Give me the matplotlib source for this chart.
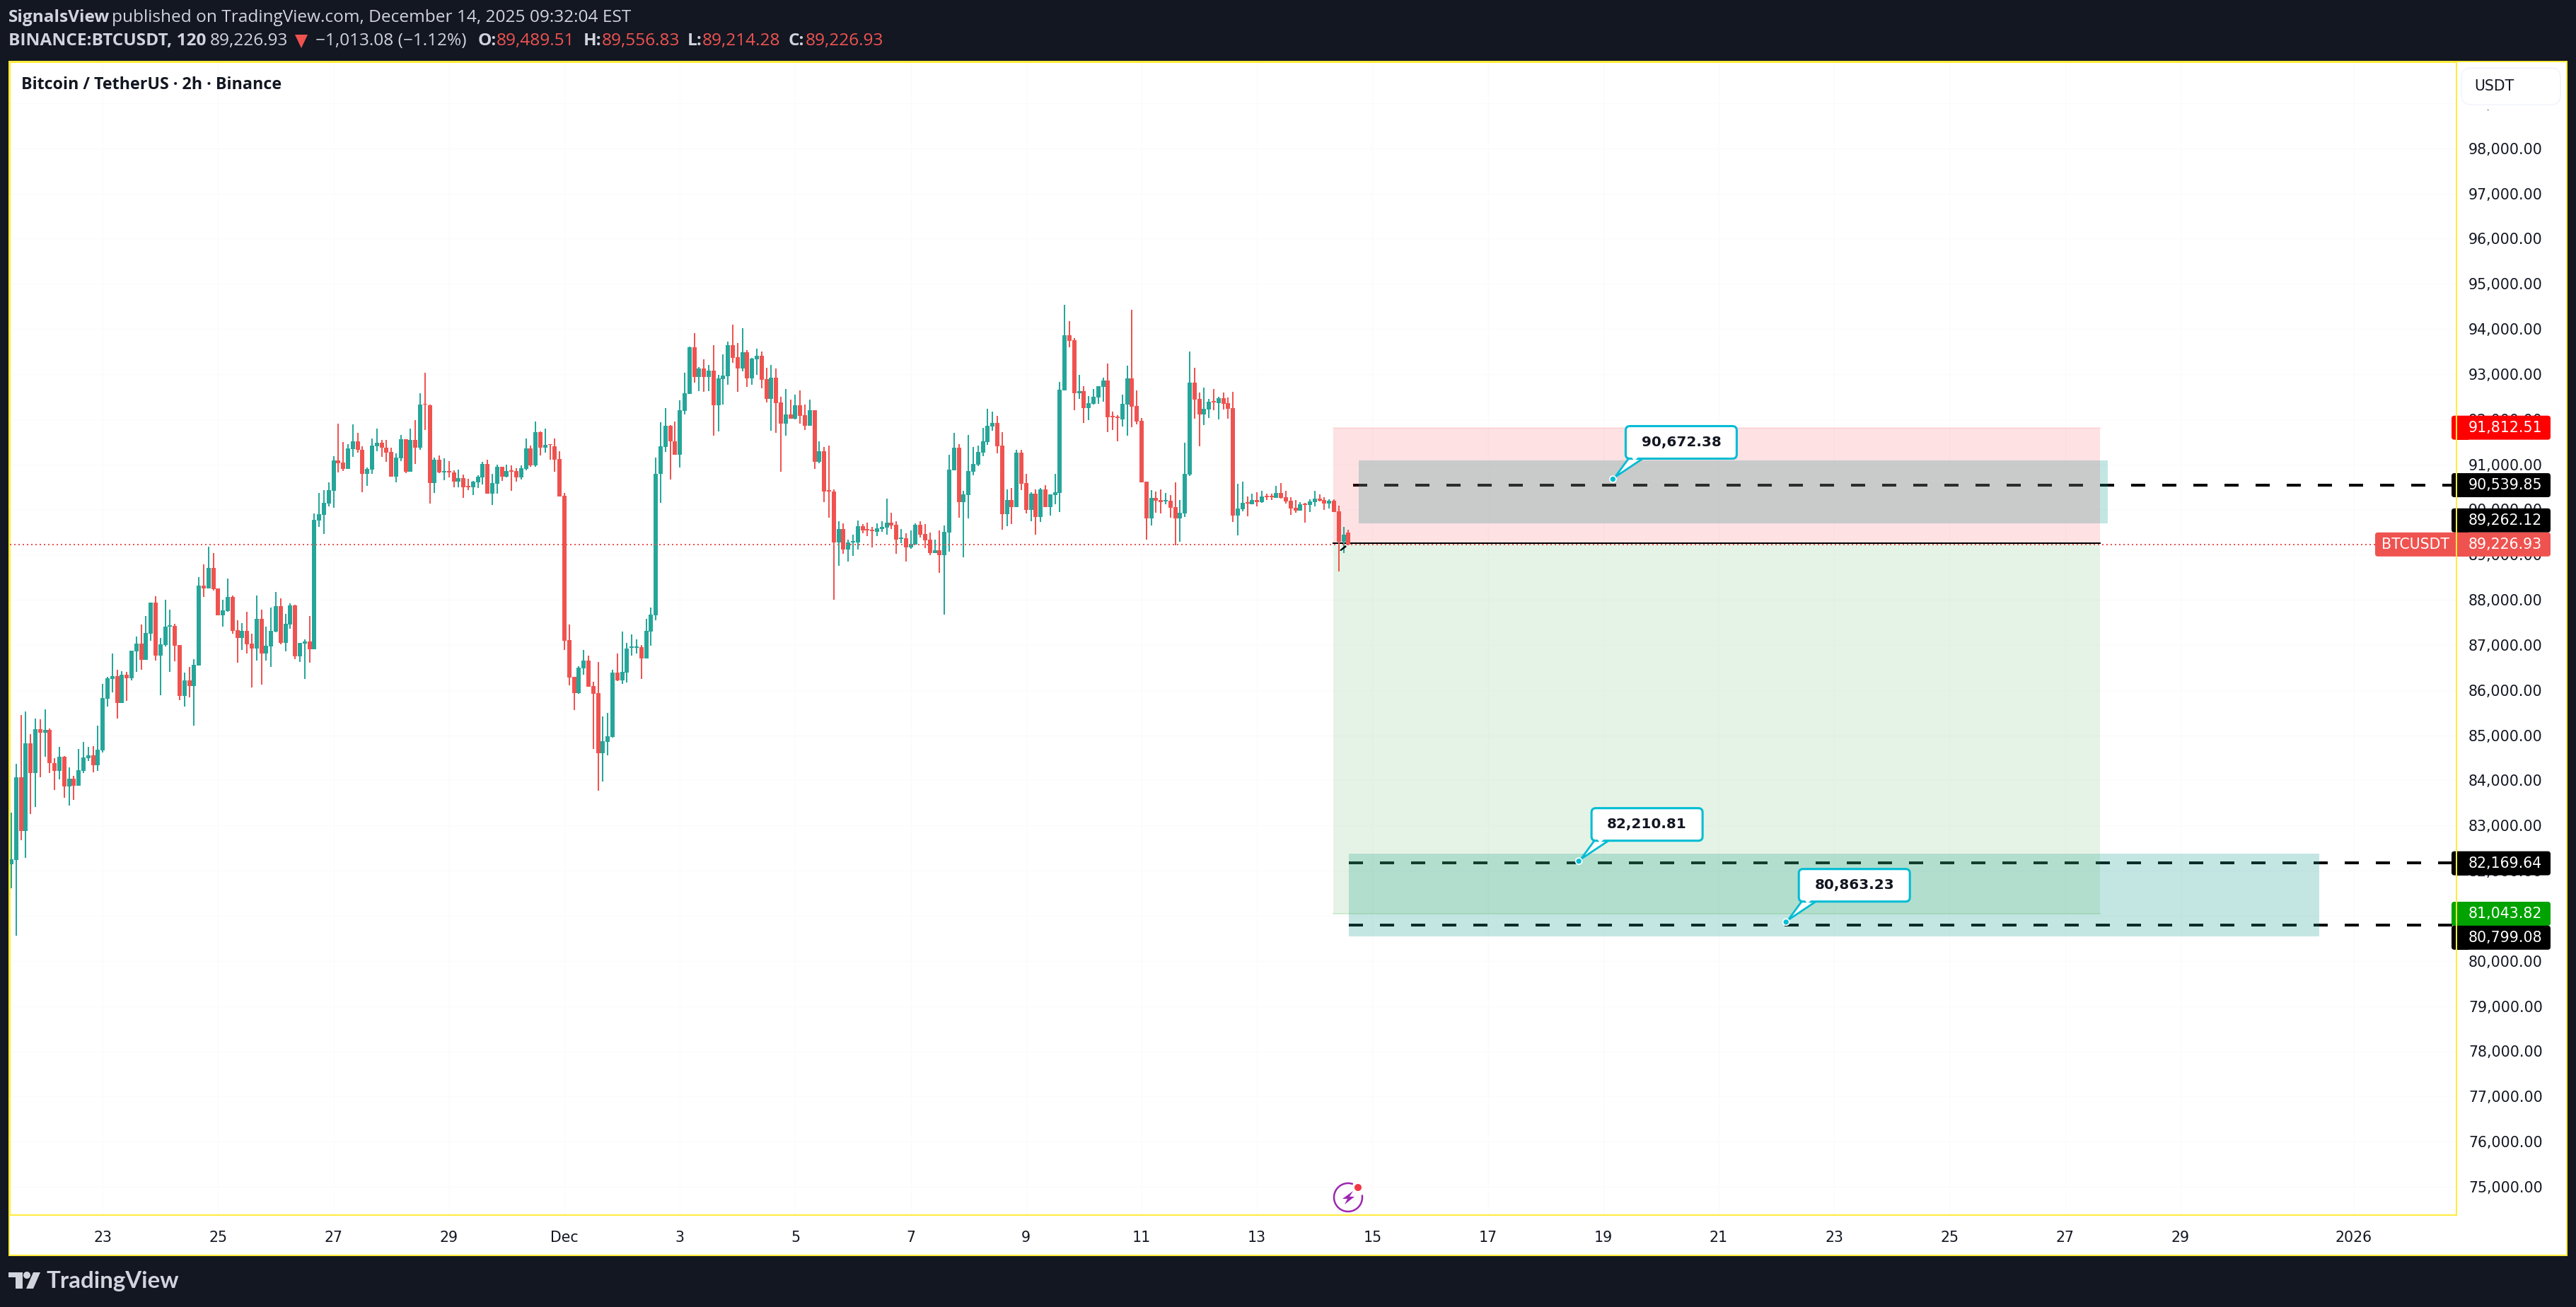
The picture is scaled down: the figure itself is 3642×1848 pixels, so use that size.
#!/usr/bin/env python3
"""BTCUSDT 2h candles with a short position tool, TradingView snapshot style."""

import numpy as np
import matplotlib
matplotlib.use('Agg')
import matplotlib.pyplot as plt
from matplotlib.patches import Arc, Circle, FancyBboxPatch, Polygon, Rectangle
from matplotlib.transforms import IdentityTransform

W, H = 3642, 1848
DPI = 200

BG = '#131722'
FRAME = '#ffeb3b'
UP = '#26a69a'
DOWN = '#ef5350'
CYAN = '#00bcd4'
HEAD = '#d1d4dc'

opens = [
    82145, 82236, 84074, 82873, 84828, 84159, 85139, 85061, 85120, 84386, 84211, 84529, 83866, 84042, 83886, 84211,
    84496, 84561, 84340, 84665, 85808, 86250, 86315, 85717, 86347, 86263, 86860, 87035, 86672, 87250, 87945, 86769,
    87003, 87412, 87425, 87003, 85873, 86217, 86094, 86548, 88315, 88256, 88711, 88256, 87659, 87756, 88068, 87328,
    87159, 87315, 87035, 86925, 87581, 86815, 86971, 87302, 87867, 87048, 87458, 87880, 86750, 87035, 87081, 86906,
    89758, 89884, 90136, 90416, 91087, 91045, 90905, 91339, 91514, 91325, 90793, 90884, 91402, 91479, 91374, 91276,
    90730, 91136, 91563, 90842, 91542, 91374, 92346, 92311, 90591, 91108, 90828, 90856, 90821, 90619, 90695, 90528,
    90493, 90605, 90716, 91010, 90353, 90577, 90947, 90730, 90863, 90856, 90716, 90905, 91360, 90982, 91716, 91374,
    91451, 91402, 91122, 90304, 87115, 86297, 85940, 86486, 86661, 86094, 85940, 84605, 84856, 84968, 86388, 86213,
    86388, 86940, 86940, 86954, 86703, 87304, 87661, 90783, 91388, 91858, 91513, 91216, 92187, 92563, 93597, 92939,
    93127, 92939, 93080, 92312, 92892, 92954, 93644, 93377, 93127, 93487, 92907, 93330, 93409, 92892, 92453, 92923,
    92375, 91905, 92109, 92015, 92312, 92093, 91858, 92203, 91059, 91294, 90433, 90401, 89274, 89571, 89117, 89274,
    89274, 89634, 89571, 89556, 89509, 89571, 89603, 89712, 89665, 89352, 89368, 89164, 89227, 89665, 89462, 89336,
    89039, 89101, 88992, 89493, 90871, 91373, 90166, 90323, 90840, 90997, 91263, 91498, 91842, 91921, 91419, 89900,
    90213, 90057, 91263, 90589, 89994, 90354, 89838, 90448, 90057, 90323, 90370, 92641, 93863, 93753, 92579, 92626,
    92250, 92344, 92485, 92720, 92860, 92077, 92062, 91999, 92328, 92907, 92297, 91968, 90621, 89806, 90260, 90213,
    90182, 90198, 90057, 89806, 89916, 90777, 92814, 92453, 92109, 92218, 92406, 92359, 92469, 92359, 92250, 89869,
    90010, 90166, 90119, 90213, 90166, 90307, 90307, 90260, 90370, 90276, 90198, 90041, 89979, 90135, 90104, 90166,
    90245, 90213, 90135, 90198, 89963, 89289, 89489.51,
]
closes = [
    82249, 84074, 82873, 84828, 84159, 85139, 85061, 85120, 84379, 84211, 84529, 83866, 84042, 83886, 84230, 84509,
    84561, 84340, 84685, 85828, 86263, 86315, 85717, 86347, 86263, 86880, 87035, 86672, 87269, 87945, 86769, 87016,
    87412, 87438, 86984, 85873, 86217, 86094, 86561, 88315, 88256, 88711, 88237, 87659, 87769, 88068, 87315, 87159,
    87315, 87016, 86925, 87581, 86815, 86984, 87315, 87867, 87048, 87471, 87880, 86750, 87048, 87081, 86906, 89776,
    89898, 90150, 90430, 91087, 91031, 90905, 91360, 91514, 91318, 90793, 90905, 91423, 91479, 91367, 91262, 90730,
    91150, 91563, 90842, 91542, 91374, 92325, 92318, 90591, 91108, 90814, 90856, 90828, 90619, 90695, 90493, 90493,
    90612, 90730, 91010, 90353, 90591, 90947, 90730, 90856, 90835, 90716, 90919, 91360, 90975, 91716, 91374, 91437,
    91430, 91108, 90290, 87094, 86283, 85940, 86500, 86661, 86080, 85919, 84605, 84870, 84982, 86388, 86213, 86409,
    86926, 86968, 86968, 86703, 87318, 87675, 90793, 91404, 91858, 91503, 91216, 92203, 92579, 93597, 92939, 93127,
    92939, 93080, 92312, 92907, 92970, 93644, 93362, 93127, 93487, 92907, 93346, 93409, 92876, 92453, 92923, 92359,
    91905, 92109, 92015, 92312, 92077, 91858, 92203, 91059, 91294, 90401, 90401, 89274, 89571, 89117, 89274, 89305,
    89634, 89540, 89540, 89524, 89587, 89618, 89712, 89650, 89336, 89383, 89164, 89242, 89665, 89446, 89321, 89039,
    89101, 88992, 89509, 90887, 91373, 90166, 90339, 90856, 91012, 91279, 91513, 91858, 91921, 91404, 89900, 90213,
    90057, 91263, 90574, 89994, 90354, 89838, 90448, 90057, 90339, 90386, 92657, 93863, 93738, 92579, 92626, 92250,
    92359, 92500, 92735, 92860, 92046, 92046, 92030, 92344, 92907, 92281, 91952, 90605, 89806, 90260, 90198, 90166,
    90213, 90041, 89806, 89932, 90793, 92814, 92438, 92109, 92234, 92391, 92375, 92469, 92344, 92234, 89869, 90025,
    90151, 90135, 90213, 90166, 90292, 90276, 90276, 90370, 90260, 90182, 90025, 89979, 90119, 90104, 90182, 90245,
    90198, 90135, 90198, 89947, 89289, 89446, 89226.93,
]
highs = [
    83288, 84366, 85451, 85529, 85029, 85373, 85360, 85574, 85152, 84496, 84743, 84542, 84289, 84107, 84698, 84854,
    84743, 84763, 85217, 86139, 86295, 86815, 86451, 86425, 86406, 86880, 87191, 87458, 87646, 87945, 88081, 87159,
    88003, 87782, 87471, 87003, 86393, 86516, 86691, 88503, 88789, 89179, 89036, 88256, 88003, 88477, 88101, 87549,
    87490, 87737, 87250, 88101, 87782, 87412, 87834, 88178, 88036, 87691, 87925, 87893, 87048, 87126, 87646, 89919,
    90367, 90430, 90605, 91185, 91905, 91500, 91451, 91891, 91702, 91395, 90933, 91577, 91793, 91542, 91542, 91374,
    91248, 91654, 91563, 91793, 91982, 92577, 93031, 92325, 91150, 91199, 91136, 91073, 90870, 90884, 90779, 90682,
    90640, 90758, 91059, 91108, 90793, 90996, 90947, 90996, 90982, 90919, 90982, 91577, 91423, 91954, 91730, 91793,
    91451, 91577, 91297, 90367, 87458, 86297, 86535, 86891, 86765, 86185, 86626, 85423, 85500, 86451, 86814, 87297,
    87052, 87234, 87129, 87003, 87584, 87835, 91150, 91936, 92250, 91874, 91952, 92422, 93033, 93612, 93910, 93158,
    93330, 93205, 93644, 92986, 93440, 93722, 94098, 93691, 94020, 93534, 93362, 93565, 93503, 93142, 93205, 93127,
    92500, 92673, 92438, 92547, 92641, 92328, 92438, 92203, 91513, 91388, 91419, 90448, 89744, 89697, 89336, 89446,
    89759, 89681, 89712, 89618, 89697, 89744, 90245, 89932, 89744, 89571, 89477, 89540, 89697, 89744, 89681, 89493,
    89336, 89540, 89650, 91216, 91701, 91451, 90417, 91654, 91388, 91419, 91811, 92234, 92171, 92077, 91717, 90448,
    90480, 91326, 91326, 90793, 90386, 90448, 90480, 90542, 90339, 90793, 92829, 94536, 94176, 93800, 92986, 92735,
    92516, 92673, 92735, 92923, 93236, 92171, 92093, 92547, 93189, 94427, 92641, 92030, 90621, 90433, 90401, 90448,
    90370, 90323, 90605, 90213, 91482, 93503, 93142, 92594, 92704, 92453, 92673, 92500, 92594, 92485, 92610, 90574,
    90621, 90292, 90354, 90386, 90417, 90354, 90354, 90527, 90589, 90417, 90276, 90213, 90166, 90151, 90229, 90417,
    90339, 90276, 90229, 90229, 90088, 89618, 89556.83,
]
lows = [
    81606, 80554, 82678, 82288, 83256, 83418, 84074, 84529, 84165, 83795, 84022, 83620, 83444, 83574, 83886, 84165,
    84431, 84185, 84211, 84620, 85639, 85951, 85373, 85717, 85763, 86217, 86406, 86451, 86672, 87094, 86659, 85893,
    86971, 86406, 86639, 85782, 85639, 85841, 85217, 86548, 88068, 88256, 88211, 87659, 87412, 87737, 87250, 86613,
    86893, 86815, 86061, 86659, 86126, 86659, 86516, 87282, 87016, 86860, 87360, 86691, 86626, 86250, 86613, 86906,
    89619, 89465, 90073, 90038, 90821, 90849, 90905, 91171, 91262, 90388, 90528, 90793, 91297, 91171, 91059, 90730,
    90605, 91073, 90807, 90842, 91010, 91325, 91765, 90136, 90367, 90800, 90654, 90716, 90493, 90493, 90262, 90430,
    90325, 90479, 90556, 90353, 90101, 90353, 90640, 90716, 90416, 90619, 90668, 90870, 90947, 90947, 91199, 91262,
    91108, 90842, 90290, 86891, 86108, 85563, 85919, 86346, 86080, 84702, 83772, 83982, 84556, 84947, 86199, 86143,
    86171, 86765, 86814, 86248, 86703, 86989, 87549, 90151, 91279, 90668, 91216, 90934, 92109, 92563, 92814, 92626,
    92610, 92626, 91639, 91733, 92328, 92767, 93252, 92610, 93064, 92720, 92767, 92986, 92688, 92375, 91748, 91701,
    90840, 91639, 92015, 91999, 91905, 91764, 91858, 90903, 91028, 90166, 89822, 88005, 88757, 89023, 88851, 88976,
    89117, 89477, 89415, 89164, 89415, 89509, 89446, 89571, 89023, 89258, 88851, 89133, 89227, 89383, 89148, 88992,
    89039, 88600, 87676, 89070, 90871, 89822, 88945, 89806, 90762, 90965, 91185, 91435, 91748, 91247, 89556, 89634,
    89681, 90057, 90433, 89916, 89744, 89446, 89728, 90057, 89869, 90119, 89947, 92641, 93597, 92203, 92453, 91921,
    91983, 92328, 92344, 92391, 91717, 91764, 91513, 91842, 91639, 91827, 91889, 90605, 89336, 89650, 89932, 89916,
    90119, 89822, 89211, 89289, 89838, 90746, 92015, 91404, 91874, 92030, 92203, 91999, 92218, 92015, 89728, 89430,
    89963, 89853, 90119, 90073, 90151, 90213, 90213, 90260, 90245, 90135, 89885, 89932, 89979, 89712, 89947, 90073,
    90182, 89994, 90025, 89947, 88632, 89039, 89214.28,
]

price_ticks = list(range(75000, 100000, 1000))
time_labels = ['23', '25', '27', '29', 'Dec', '3', '5', '7', '9', '11', '13', '15', '17', '19',
               '21', '23', '25', '27', '29', '2026']
time_bars = [19, 43, 67, 91, 115, 139, 163, 187, 211, 235, 259, 283, 307, 331,
             355, 379, 403, 427, 451, 487]

last_price = 89226.93
pos_top, pos_entry, pos_bottom = 91812.51, 89262.12, 81043.82
pos_bars = (274.85, 434.26)

level_prices = [90539.85, 82169.64, 80799.08]
level_starts = [278.97, 278.1, 278.1]
zone_bars = [(280.15, 435.9), (278.1, 479.85)]
zone_prices = [(89687, 91081), (80544, 82372)]

callout_bars = [333, 325.9, 369]
callout_prices = [90672.38, 82210.81, 80863.23]

label_texts = ['91,812.51', '90,539.85', '89,262.12', '89,226.93', '82,169.64', '81,043.82', '80,799.08']
label_y_px = [604.7, 686, 735.8, 769.8, 1220.6, 1292, 1325.8]
label_colors = ['#ff0000', '#000000', '#000000', DOWN, '#000000', '#00a300', '#000000']

# pixel <-> data calibration of the chart area
BAR_X0, BAR_DX = 16, 6.8
PRICE_Y0, PX_PER_USD = 848.1, 0.06384
LEFT, RIGHT, TOP, BOTTOM = 14, 3473, 88, 1718

plt.rcParams['font.family'] = 'DejaVu Sans'
ID = IdentityTransform()


def px_poly(points, **kw):
    fig.add_artist(Polygon([(x, H - y) for x, y in points], closed=True, transform=ID,
                           linewidth=kw.pop('linewidth', 0), zorder=kw.pop('zorder', 6), **kw))


def px_text(x, y, s, **kw):
    kw.setdefault('va', 'center')
    kw.setdefault('zorder', 8)
    fig.text(x, H - y, s, transform=ID, **kw)


def px_round_box(x0, y0, x1, y1, radius, **kw):
    fig.add_artist(FancyBboxPatch((x0, H - y1), x1 - x0, y1 - y0,
                                  boxstyle=f'round,pad=0,rounding_size={radius}', transform=ID,
                                  zorder=kw.pop('zorder', 6), **kw))


def px_rect(x0, y0, x1, y1, **kw):
    fig.add_artist(Rectangle((x0, H - y1), x1 - x0, y1 - y0, transform=ID,
                             zorder=kw.pop('zorder', 6), linewidth=kw.pop('linewidth', 0), **kw))


fig = plt.figure(figsize=(W / DPI, H / DPI), dpi=DPI, facecolor=BG)

# white panel with the yellow outline
px_rect(13, 87, 3629, 1775, facecolor='white', edgecolor=FRAME, linewidth=0.72, zorder=-1)

ax = fig.add_axes([LEFT / W, 1 - BOTTOM / H, (RIGHT - LEFT) / W, (BOTTOM - TOP) / H], facecolor='white')
ax.set_xlim((LEFT - BAR_X0) / BAR_DX, (RIGHT - BAR_X0) / BAR_DX)
ax.set_ylim(88000 - (BOTTOM - PRICE_Y0) / PX_PER_USD, 88000 + (PRICE_Y0 - TOP) / PX_PER_USD)
for spine in ax.spines.values():
    spine.set_color(FRAME)
    spine.set_linewidth(0.72)

ax.yaxis.tick_right()
ax.set_yticks(price_ticks)
ax.set_yticklabels([f'{p:,.2f}' for p in price_ticks])
ax.set_xticks(time_bars)
ax.set_xticklabels(time_labels)
ax.tick_params(axis='y', length=0, pad=6.1, labelsize=7.4, labelcolor='#131722')
ax.tick_params(axis='x', length=0, pad=7.9, labelsize=7.4, labelcolor='#131722')
ax.grid(True, color='#fbfbfc', linewidth=0.4, zorder=0)
ax.set_axisbelow(True)

# horizontal levels, then the zones and position tool laid over them
dash = (0, (5, 6))
for price, start in zip(level_prices, level_starts):
    ax.plot([start, ax.get_xlim()[1]], [price, price], color='black', linewidth=1.44,
            linestyle=dash, dash_capstyle='butt', zorder=1)
for (x0, x1), (p0, p1) in zip(zone_bars, zone_prices):
    ax.add_patch(Rectangle((x0, p0), x1 - x0, p1 - p0, facecolor='#26a69a', alpha=0.276,
                           linewidth=0, zorder=2))

x0, x1 = pos_bars
ax.add_patch(Rectangle((x0, pos_entry), x1 - x0, pos_top - pos_entry, facecolor='#f23645', alpha=0.15,
                       linewidth=0, zorder=3))
ax.add_patch(Rectangle((x0, pos_bottom), x1 - x0, pos_entry - pos_bottom, facecolor='#4caf50', alpha=0.14,
                       linewidth=0, zorder=3))
ax.plot([x0, x1], [pos_top, pos_top], color='#f23645', alpha=0.1, linewidth=0.72, zorder=3)
ax.plot([x0, x1], [pos_bottom, pos_bottom], color='#4caf50', alpha=0.2, linewidth=0.72, zorder=3)
ax.plot([x0, x1], [pos_entry, pos_entry], color='black', linewidth=0.72, zorder=3)

# candles
o, c, hi, lo = map(np.array, (opens, closes, highs, lows))
bars = np.arange(len(o))
rising = c >= o
colors = np.where(rising, UP, DOWN)
ax.vlines(bars, lo, hi, colors=colors, linewidth=0.72, zorder=4, antialiased=False)
ax.bar(bars, np.abs(c - o), bottom=np.minimum(o, c), width=0.88, color=colors, linewidth=0, zorder=4,
       antialiased=False)

ax.axhline(last_price, color=DOWN, linewidth=0.72, linestyle=(0, (1, 2)), zorder=5)

# small marker arrow left of the last candle
px_poly([(1894, 778), (1896, 779), (1904, 773), (1902, 771)], facecolor='black', zorder=3)

# callouts anchored on a price
fig.canvas.draw()
for bar, price in zip(callout_bars, callout_prices):
    dx, dy = ax.transData.transform((bar, price))
    dy = H - dy
    px_poly([(dx + 3, dy - 3), (dx + 22, dy - 29), (dx + 42, dy - 29)], facecolor='white', edgecolor=CYAN, linewidth=1.0)
    px_round_box(dx + 18, dy - 75, dx + 175, dy - 29, 6, facecolor='white', edgecolor=CYAN, linewidth=1.1)
    px_poly([(dx + 25, dy - 33), (dx + 38, dy - 33), (dx + 30, dy - 26)], facecolor='white', zorder=6)
    fig.add_artist(Circle((dx, H - dy), 4.5, transform=ID, facecolor=CYAN, edgecolor='white', linewidth=0.6, zorder=7))
    px_text(dx + 96.5, dy - 52, f'{price:,.2f}', ha='center', fontsize=7.2, fontweight='bold', color='#131722')

# price axis labels
for text, y, color in zip(label_texts, label_y_px, label_colors):
    px_round_box(3466, y - 17, 3606, y + 17, 4, facecolor=color, linewidth=0)
    px_rect(3474, y - 17, 3490, y + 17, facecolor=color)
    px_text(3490, y, text, fontsize=7.4, color='white')

y = label_y_px[3]
px_round_box(3358, y - 17, 3480, y + 17, 4, facecolor=DOWN, linewidth=0)
px_text(3415, y, 'BTCUSDT', ha='center', fontsize=7.4, color='white')
px_rect(3472, 87, 3474, 1718, facecolor=FRAME, zorder=7)

# currency pill sits on a white strip that hides the top tick
px_rect(3475, 89, 3627, 155, facecolor='white', zorder=5)
px_round_box(3480, 96, 3620, 148, 14, facecolor='white', edgecolor='#f0f3fa', linewidth=0.5)
px_text(3498, 122, 'USDT', fontsize=7.4, color='#131722')

# chart title and header
sans = dict(family='Open Sans', fontsize=8.8)
px_text(30, 120, 'Bitcoin / TetherUS · 2h · Binance', fontweight='bold', family='Open Sans', fontsize=8.4,
        color='#131722')
px_text(12, 25, 'SignalsView', color=HEAD, fontweight='bold', **sans)
px_text(158, 25, 'published on TradingView.com, December 14, 2025 09:32:04 EST', color=HEAD, **sans)
px_text(12, 58, 'BINANCE:BTCUSDT, 120', color=HEAD, fontweight='bold', **sans)
px_text(297, 58, '89,226.93', color=HEAD, **sans)
px_poly([(417, 49), (435, 49), (426, 68)], facecolor=DOWN)
px_text(446, 58, '−1,013.08 (−1.12%)', color=HEAD, **sans)
for x_key, key, x_val, val in [(676, 'O:', 702, '89,489.51'), (825, 'H:', 851, '89,556.83'),
                               (972, 'L:', 993, '89,214.28'), (1115, 'C:', 1139, '89,226.93')]:
    px_text(x_key, 58, key, color=HEAD, fontweight='bold', **sans)
    px_text(x_val, 58, val, color=DOWN, **sans)

# TradingView logo
px_poly([(12, 1799), (32, 1799), (32, 1822), (22, 1822), (22, 1806), (12, 1806)], facecolor=HEAD)
fig.add_artist(Circle((38, H - 1803), 5, transform=ID, facecolor=HEAD, linewidth=0, zorder=6))
px_poly([(47, 1799), (57, 1799), (47, 1822), (37, 1822)], facecolor=HEAD)
px_text(66, 1811, 'TradingView', fontsize=11.9, family='Lato', fontweight='bold', color=HEAD)

# events badge at the bottom of the chart
fig.add_artist(Arc((1906, H - 1693), 40, 40, theta1=70, theta2=10, transform=ID, color='#9c27b0',
                   linewidth=0.9, zorder=6))
px_poly([(1913, 1684), (1898, 1695), (1905, 1695), (1901, 1703), (1915, 1692), (1908, 1692)], facecolor='#9c27b0')
fig.add_artist(Circle((1920, H - 1679), 5, transform=ID, facecolor='#f23645', linewidth=0, zorder=7))

fig.savefig('out.png', dpi=DPI, facecolor=BG)
